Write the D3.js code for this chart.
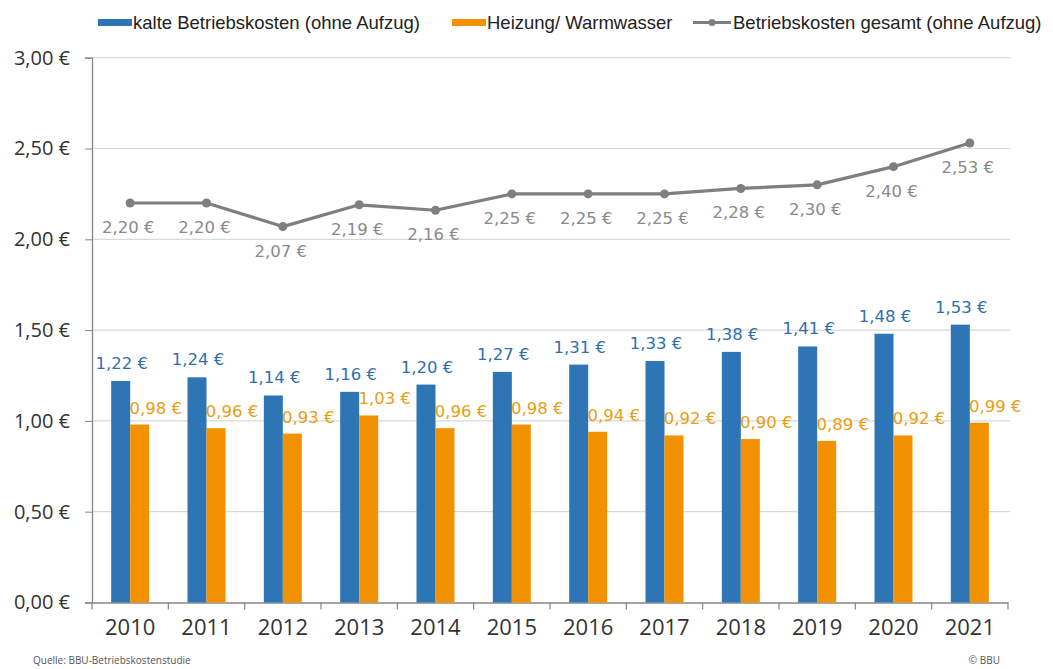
<!DOCTYPE html>
<html><head><meta charset="utf-8">
<script src="https://cdn.jsdelivr.net/npm/d3@7"></script>
<style>body{margin:0;background:#fff}svg{display:block}</style>
</head><body>
<svg id="c" width="1053" height="669"></svg>
<script>
const years = ["2010","2011","2012","2013","2014","2015","2016","2017","2018","2019","2020","2021"];
const kalte = [1.22,1.24,1.14,1.16,1.20,1.27,1.31,1.33,1.38,1.41,1.48,1.53];
const heizung = [0.98,0.96,0.93,1.03,0.96,0.98,0.94,0.92,0.90,0.89,0.92,0.99];
const gesamt = [2.20,2.20,2.07,2.19,2.16,2.25,2.25,2.25,2.28,2.30,2.40,2.53];
const yTicks = [0,0.5,1,1.5,2,2.5,3];
const seriesNames = ["kalte Betriebskosten (ohne Aufzug)","Heizung/ Warmwasser","Betriebskosten gesamt (ohne Aufzug)"];

const blue = "#2e75b6", orange = "#f39200", gray = "#7f7f7f";
const blueTxt = "#2f6fad", orangeTxt = "#e89e12", grayTxt = "#8a8a8a";
const fmt = v => d3.format(".2f")(v).replace(".", ",") + " €";

const svg = d3.select("#c");
const x = d3.scaleBand().domain(years).range([92, 1008]);
const y = d3.scaleLinear().domain([0, 3]).range([602.5, 57.7]);
const bw = 19;
const lblFont = "DejaVu Sans, sans-serif", lblSize = 16.5;

// gridlines
svg.append("g").selectAll("line").data(yTicks.slice(1)).join("line")
  .attr("x1", 92).attr("x2", 1010).attr("y1", d => y(d)).attr("y2", d => y(d))
  .attr("stroke", "#d9d9d9").attr("stroke-width", 1.2);

// y axis
const yAxis = svg.append("g").attr("transform", "translate(92,0)")
  .call(d3.axisLeft(y).tickValues(yTicks).tickFormat(fmt).tickSize(7).tickPadding(15));
yAxis.select(".domain").attr("stroke", "#868686").attr("stroke-width", 1.3);
yAxis.selectAll(".tick line").attr("stroke", "#868686");
yAxis.selectAll("text").attr("font-family", "Open Sans, sans-serif").attr("font-size", 20).attr("fill", "#333");

// x axis
const xAxis = svg.append("g").attr("transform", "translate(0,602.5)")
  .call(d3.axisBottom(x).tickSize(0).tickPadding(17));
xAxis.select(".domain").attr("stroke", "#868686").attr("stroke-width", 1.3);
xAxis.selectAll("text").attr("font-family", "Open Sans, sans-serif").attr("font-size", 22).attr("fill", "#333");
const bounds = years.map(d => x(d)).concat([x.range()[1]]);
svg.append("g").selectAll("line").data(bounds).join("line")
  .attr("x1", d => d).attr("x2", d => d).attr("y1", 602.5).attr("y2", 609.5)
  .attr("stroke", "#868686").attr("stroke-width", 1.2);

const cx = d => x(d) + x.bandwidth() / 2;

// bars
svg.append("g").selectAll("rect").data(years).join("rect")
  .attr("x", (d) => cx(d) - bw).attr("width", bw)
  .attr("y", (d, i) => y(kalte[i])).attr("height", (d, i) => y(0) - y(kalte[i]))
  .attr("fill", blue);
svg.append("g").selectAll("rect").data(years).join("rect")
  .attr("x", (d) => cx(d)).attr("width", bw)
  .attr("y", (d, i) => y(heizung[i])).attr("height", (d, i) => y(0) - y(heizung[i]))
  .attr("fill", orange);

// bar labels
svg.append("g").selectAll("text").data(years).join("text")
  .attr("x", d => cx(d) - bw / 2 + 1).attr("y", (d, i) => y(kalte[i]) - 12)
  .attr("text-anchor", "middle").attr("font-family", lblFont).attr("font-size", lblSize)
  .attr("fill", blueTxt).text((d, i) => fmt(kalte[i]));
svg.append("g").selectAll("text").data(years).join("text")
  .attr("x", d => cx(d) + bw / 2 + 16).attr("y", (d, i) => y(heizung[i]) - 11)
  .attr("text-anchor", "middle").attr("font-family", lblFont).attr("font-size", lblSize)
  .attr("fill", orangeTxt).text((d, i) => fmt(heizung[i]));

// line
const line = d3.line().x((d, i) => cx(years[i])).y(d => y(d));
svg.append("path").datum(gesamt).attr("d", line).attr("fill", "none")
  .attr("stroke", gray).attr("stroke-width", 3.2).attr("stroke-linejoin", "round");
svg.append("g").selectAll("circle").data(gesamt).join("circle")
  .attr("cx", (d, i) => cx(years[i])).attr("cy", d => y(d)).attr("r", 4.5).attr("fill", gray);
svg.append("g").selectAll("text").data(gesamt).join("text")
  .attr("x", (d, i) => cx(years[i]) - 2).attr("y", d => y(d) + 30)
  .attr("text-anchor", "middle").attr("font-family", lblFont).attr("font-size", lblSize)
  .attr("fill", grayTxt).text(d => fmt(d));

// legend
const lg = svg.append("g").attr("font-family", "Liberation Sans, Arial, sans-serif").attr("font-size", 18.5).attr("fill", "#222");
lg.append("rect").attr("x", 98).attr("y", 19).attr("width", 34).attr("height", 7).attr("fill", blue);
lg.append("text").attr("x", 133).attr("y", 29).text(seriesNames[0]);
lg.append("rect").attr("x", 452).attr("y", 19).attr("width", 34).attr("height", 7).attr("fill", orange);
lg.append("text").attr("x", 487).attr("y", 29).text(seriesNames[1]);
lg.append("line").attr("x1", 693).attr("x2", 731).attr("y1", 22.5).attr("y2", 22.5).attr("stroke", gray).attr("stroke-width", 3);
lg.append("circle").attr("cx", 712).attr("cy", 22.5).attr("r", 3.5).attr("fill", gray);
lg.append("text").attr("x", 733).attr("y", 29).text(seriesNames[2]);

// footer
svg.append("text").attr("x", 33).attr("y", 664).attr("font-family", "Open Sans, sans-serif").attr("font-size", 10)
  .attr("fill", "#555").text("Quelle: BBU-Betriebskostenstudie");
svg.append("text").attr("x", 1000).attr("y", 664).attr("text-anchor", "end").attr("font-family", "Open Sans, sans-serif").attr("font-size", 10)
  .attr("fill", "#555").text("© BBU");
</script>
</body></html>
